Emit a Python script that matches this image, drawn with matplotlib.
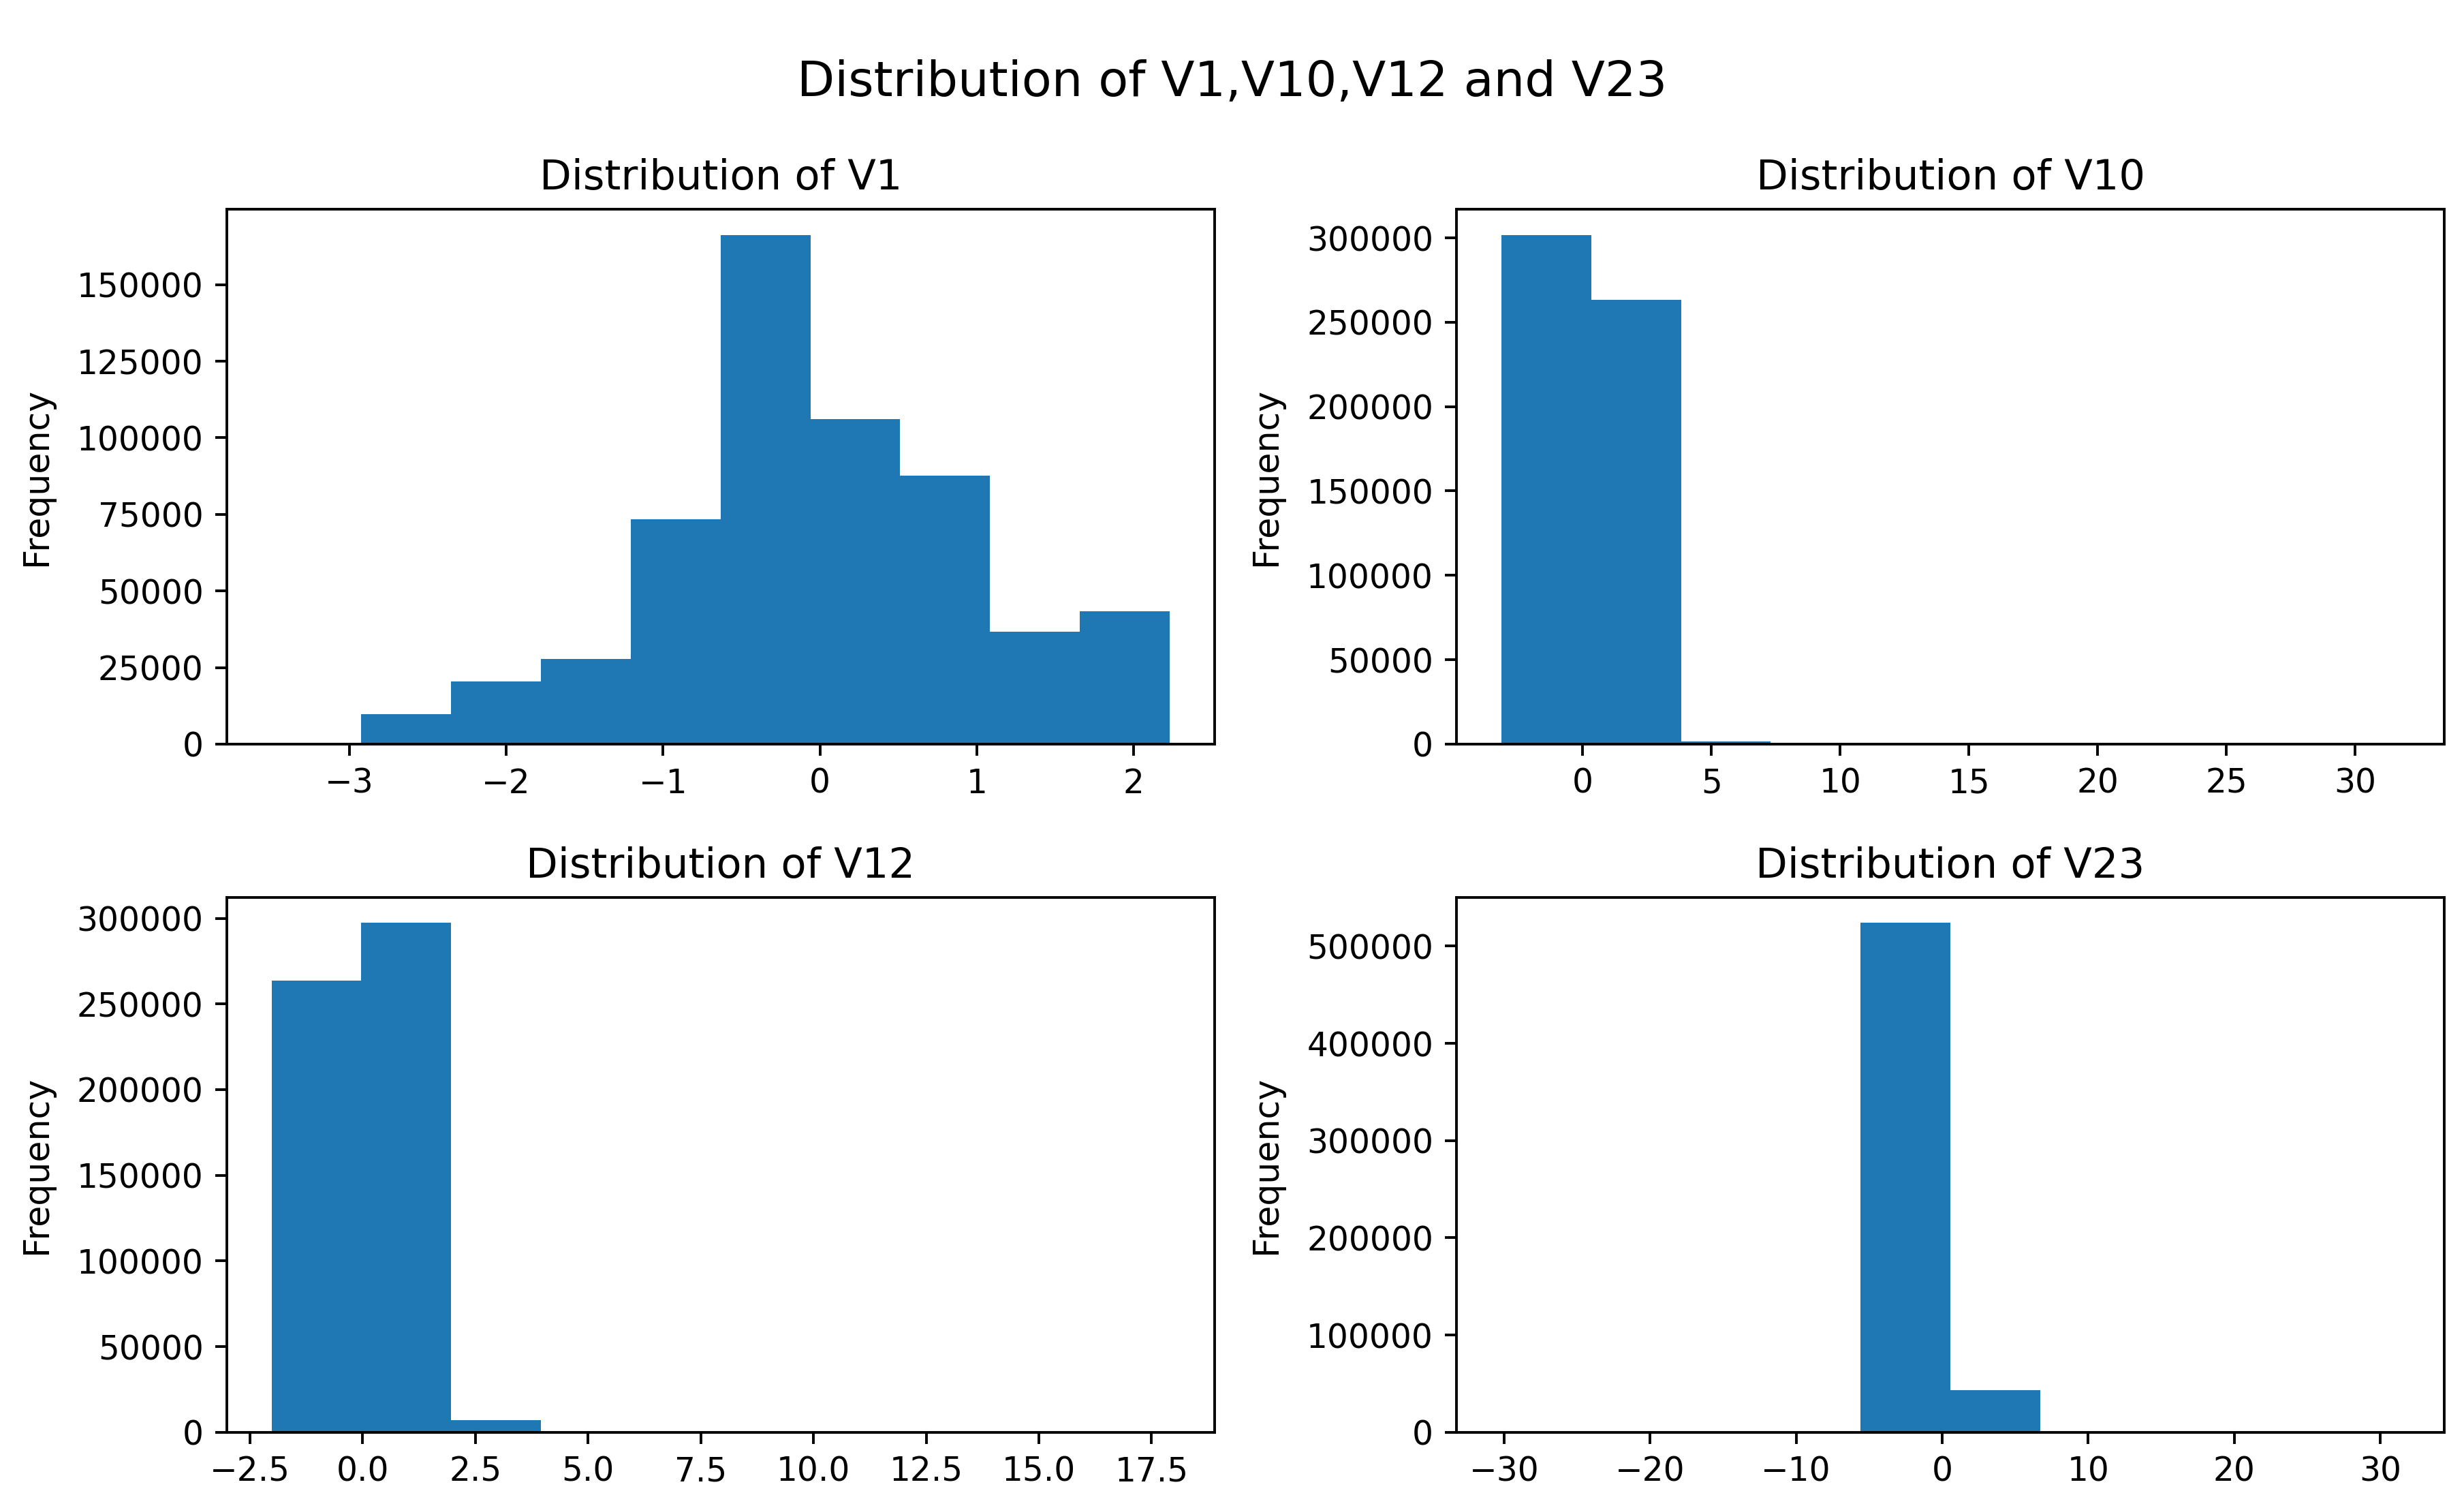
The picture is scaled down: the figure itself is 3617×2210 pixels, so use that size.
import numpy as np
import matplotlib
matplotlib.use("Agg")
import matplotlib.pyplot as plt

# bin edges (10 bins each) and counts
v1_min, v1_max = -3.4956, 2.2290
v1_counts = [300, 9850, 20400, 27800, 73500, 166300, 106200, 87600, 36700, 43300]

v10_min, v10_max = -3.16, 31.72
v10_counts = [301800, 263400, 1700, 300, 150, 80, 40, 20, 10, 5]

v12_min, v12_max = -2.02, 17.90
v12_counts = [263500, 297300, 7000, 400, 150, 80, 40, 20, 10, 5]

v23_min, v23_max = -30.18, 31.30
v23_counts = [5, 10, 30, 300, 523800, 43500, 600, 50, 10, 5]

names = ["V1", "V10", "V12", "V23"]
ranges = [(v1_min, v1_max), (v10_min, v10_max), (v12_min, v12_max), (v23_min, v23_max)]
counts = [v1_counts, v10_counts, v12_counts, v23_counts]

fig, axes = plt.subplots(2, 2, figsize=(3617 / 350, 2210 / 350), dpi=350)
fig.subplots_adjust(left=0.092, right=0.992, top=0.861, bottom=0.049,
                    wspace=0.245, hspace=0.287)

for ax, name, (lo, hi), c in zip(axes.flat, names, ranges, counts):
    edges = np.linspace(lo, hi, len(c) + 1)
    mids = 0.5 * (edges[:-1] + edges[1:])
    ax.hist(mids, bins=edges, weights=c, color="#1f77b4")
    ax.set_title("Distribution of " + name, fontsize=12.5)
    ax.set_ylabel("Frequency", fontsize=10.4, labelpad=7)

fig.suptitle("Distribution of V1,V10,V12 and V23", fontsize=14.8, y=0.945, va="center")
fig.savefig("out.png", dpi=350)
